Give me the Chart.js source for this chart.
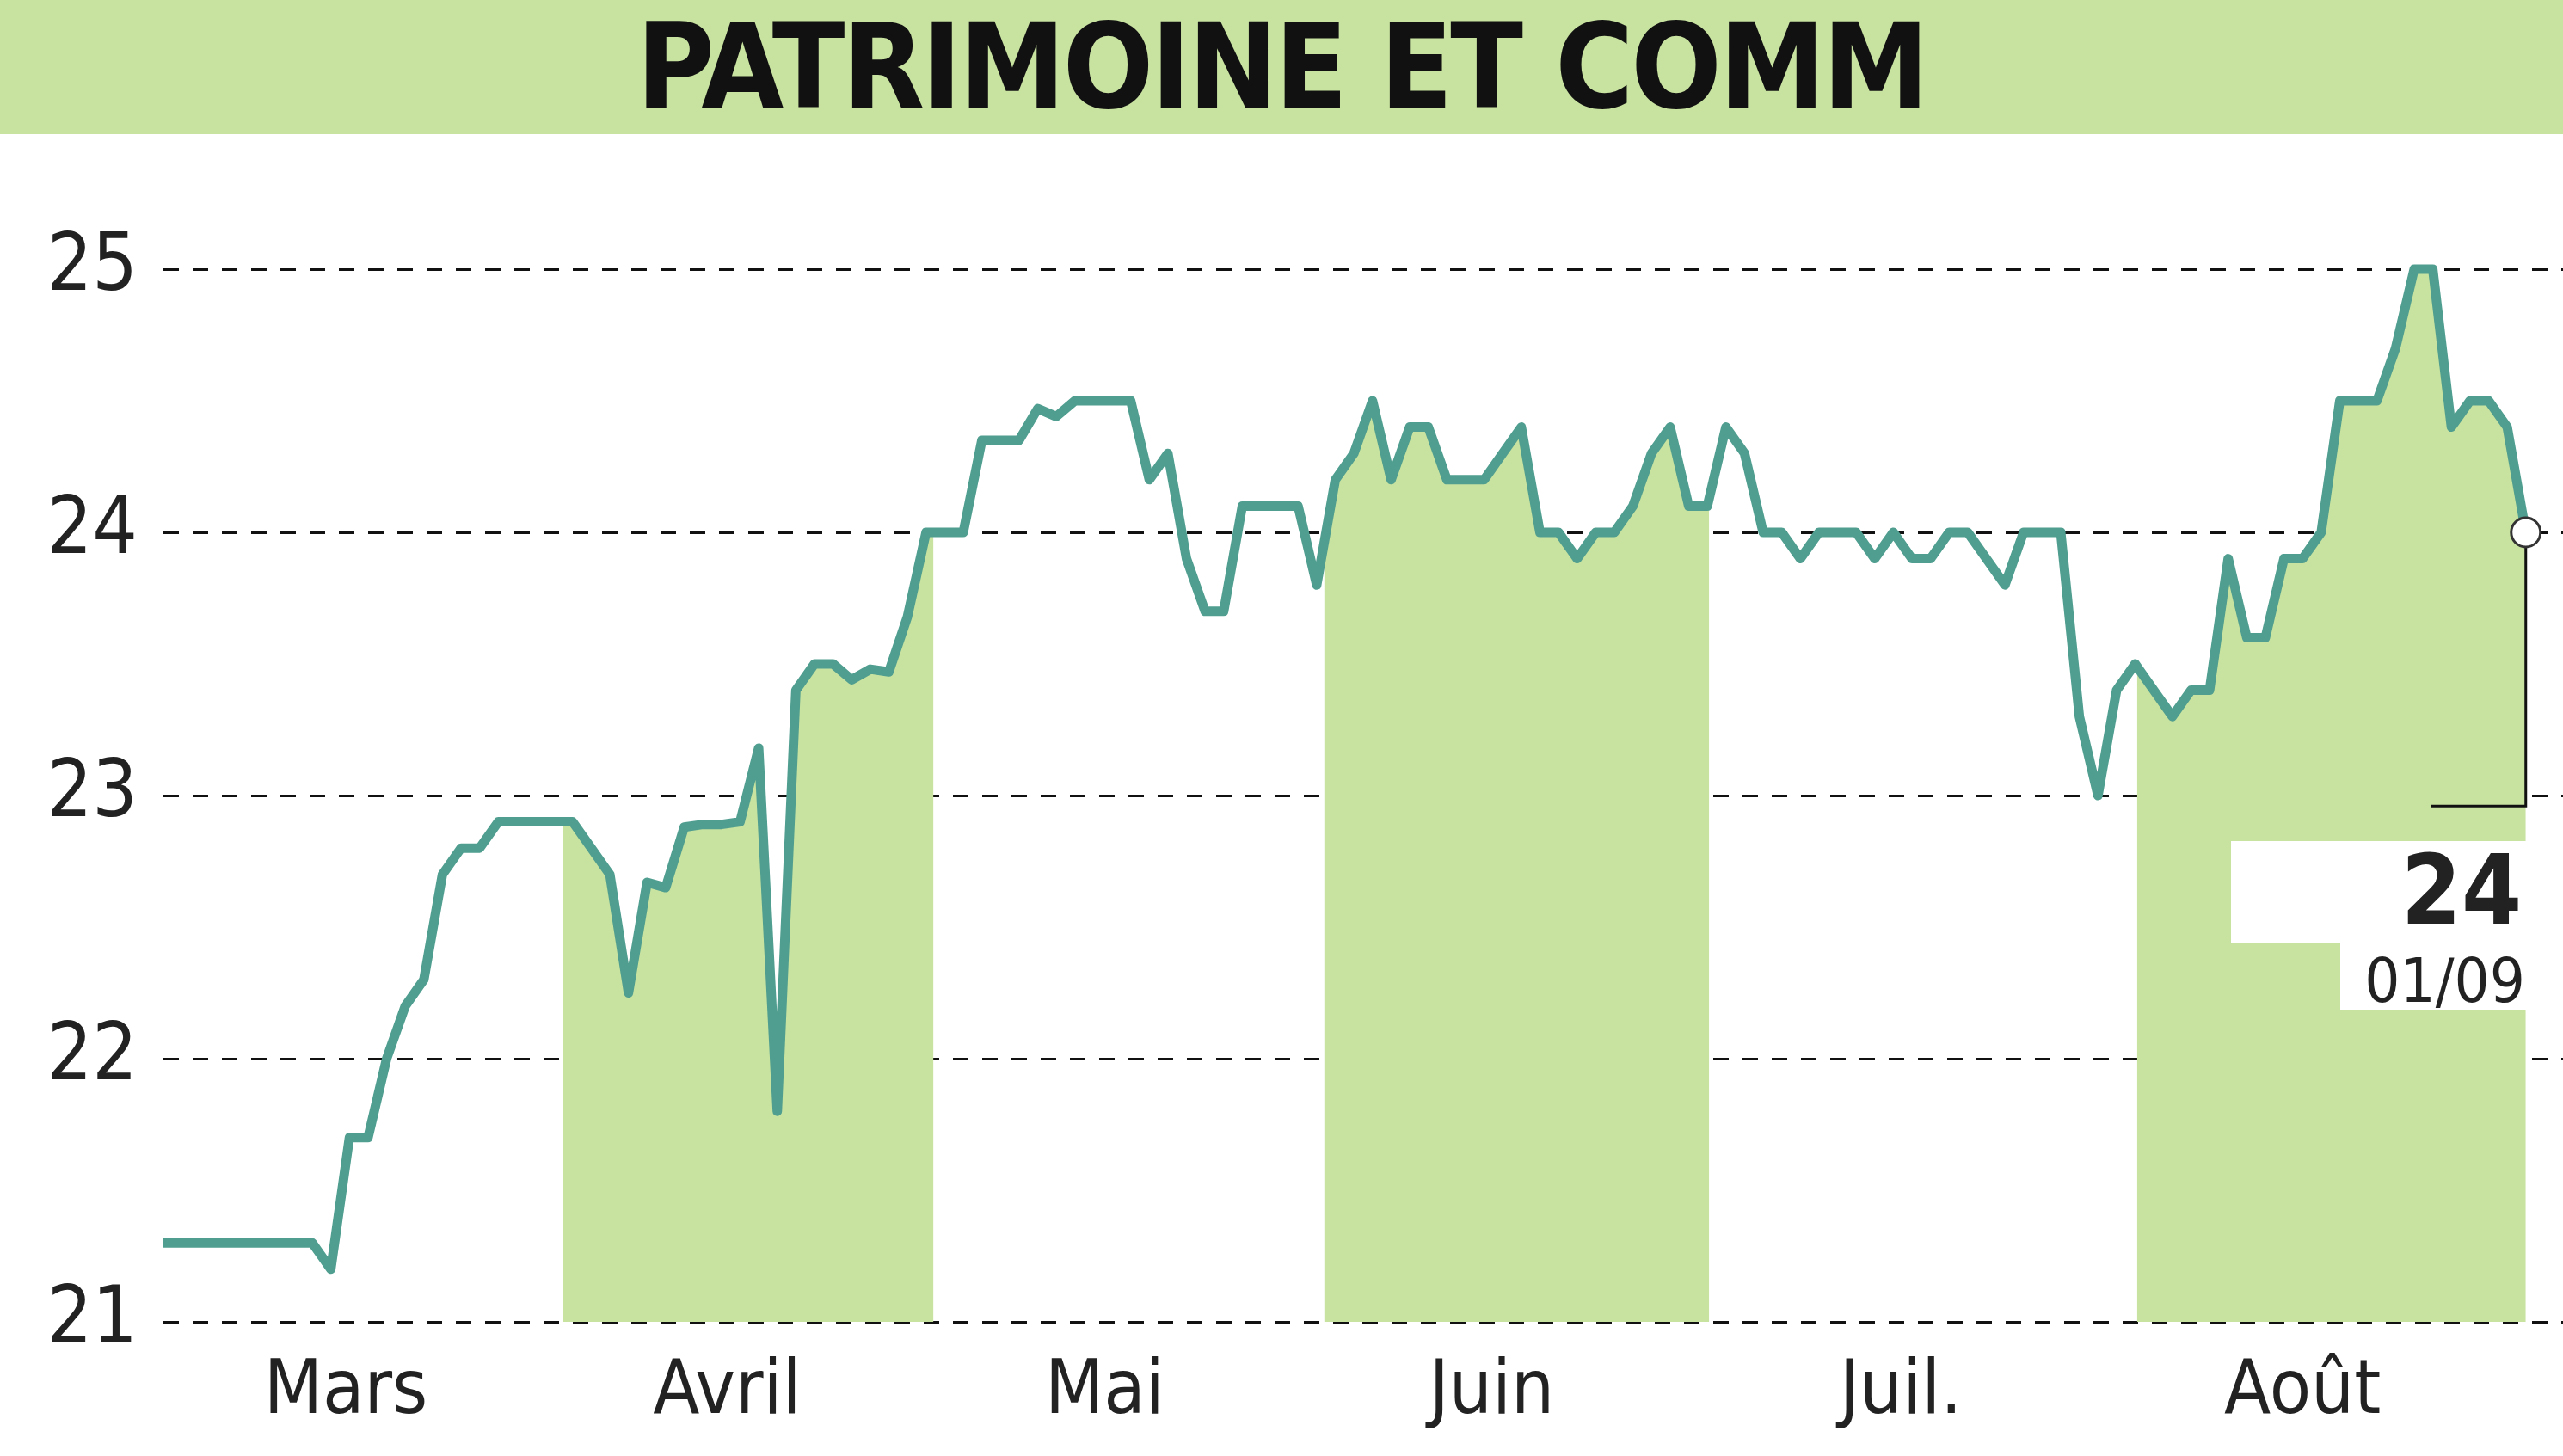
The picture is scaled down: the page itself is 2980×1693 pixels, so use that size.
<!DOCTYPE html>
<html><head><meta charset="utf-8">
<script src="https://cdn.jsdelivr.net/npm/chart.js@4/dist/chart.umd.min.js"></script>
<style>
html,body{margin:0;padding:0;background:#fff;width:2980px;height:1693px;overflow:hidden;font-family:"DejaVu Sans Condensed","DejaVu Sans",sans-serif;font-stretch:condensed}
#title{position:absolute;left:0;top:0;width:2980px;height:156px;background:#c8e2a0;text-align:center;font-weight:bold;font-size:138px;line-height:156px;color:#111;letter-spacing:-3px}
#c{position:absolute;left:0;top:0}
.lbl{position:absolute;text-align:right;color:#222}
</style></head><body>
<canvas id="c" width="2980" height="1693"></canvas>
<div id="title">PATRIMOINE ET COMM</div>
<div class="lbl" style="right:48px;top:975px;font-size:112px;font-weight:bold;line-height:120px">24</div>
<div class="lbl" style="right:44px;top:1100px;font-size:72px;line-height:80px">01/09</div>
<script>
const prices = [21.3,21.3,21.3,21.3,21.3,21.3,21.3,21.3,21.3,21.2,21.7,21.7,22.0,22.2,22.3,22.7,22.8,22.8,22.9,22.9,22.9,22.9,22.9,22.8,22.7,22.25,22.67,22.65,22.88,22.89,22.89,22.9,23.18,21.8,23.4,23.5,23.5,23.44,23.48,23.47,23.68,24.0,24.0,24.0,24.35,24.35,24.35,24.47,24.44,24.5,24.5,24.5,24.5,24.2,24.3,23.9,23.7,23.7,24.1,24.1,24.1,24.1,23.8,24.2,24.3,24.5,24.2,24.4,24.4,24.2,24.2,24.2,24.3,24.4,24.0,24.0,23.9,24.0,24.0,24.1,24.3,24.4,24.1,24.1,24.4,24.3,24.0,24.0,23.9,24.0,24.0,24.0,23.9,24.0,23.9,23.9,24.0,24.0,23.9,23.8,24.0,24.0,24.0,23.3,23.0,23.4,23.5,23.4,23.3,23.4,23.4,23.9,23.6,23.6,23.9,23.9,24.0,24.5,24.5,24.5,24.7,25.0,25.0,24.4,24.5,24.5,24.4,24.0];
const months = ["Mars","Avril","Mai","Juin","Juil.","Août"];
const monthPos = [9.8,30.3,50.6,71.4,93.4,115];
const shaded = [[21.5,41.4],[62.4,83.1],[106.1,127]];
const yTicks = [21,22,23,24,25];

const FONT='"DejaVu Sans Condensed","DejaVu Sans"';
const linePts = prices.map((v,i)=>({x:i,y:v}));
function interp(x){const i=Math.floor(x),f=x-i;if(i>=prices.length-1)return prices[prices.length-1];return prices[i]+(prices[i+1]-prices[i])*f;}
const fillSets = shaded.map(([a,b])=>{
  const pts=[{x:a,y:interp(a)}];
  for(let i=Math.ceil(a);i<=Math.floor(b);i++)pts.push({x:i,y:prices[i]});
  if(b>Math.floor(b))pts.push({x:b,y:interp(b)});
  return {data:pts,fill:'origin',backgroundColor:'#c8e2a0',borderWidth:0,pointRadius:0,tension:0,order:1};
});
const endPlugin={id:'end',afterDatasetsDraw(ch){
  const {ctx,scales:{x,y}}=ch;const n=prices.length-1;
  const px=x.getPixelForValue(n),py=y.getPixelForValue(prices[n]);
  ctx.save();
  ctx.fillStyle='#fff';
  ctx.fillRect(2594,978,346,118);ctx.fillRect(2721,1096,219,78);
  ctx.strokeStyle='#111';ctx.lineWidth=3;ctx.beginPath();
  const yb=y.getPixelForValue(22.96);
  ctx.moveTo(px,py);ctx.lineTo(px,yb);ctx.lineTo(2827,yb);ctx.stroke();
  ctx.beginPath();ctx.arc(px,py,17,0,Math.PI*2);ctx.fillStyle='#fff';ctx.fill();ctx.strokeStyle='#333';ctx.lineWidth=3;ctx.stroke();
  ctx.restore();
}};
new Chart(document.getElementById('c'),{
  type:'line',
  data:{datasets:[...fillSets,{data:linePts,borderColor:'#4f9e8f',borderWidth:11,pointRadius:0,fill:false,tension:0,borderJoinStyle:'round',order:0}]},
  options:{responsive:false,animation:false,devicePixelRatio:1,
    layout:{padding:{top:160,right:0,left:0,bottom:0}},
    plugins:{legend:{display:false},tooltip:{enabled:false}},
    scales:{
      x:{type:'linear',min:0,max:129,grid:{display:false},border:{display:false},
        afterBuildTicks(s){s.ticks=monthPos.map(v=>({value:v}));},
        afterFit(s){s.height=156;},
        ticks:{autoSkip:false,maxRotation:0,padding:22,color:'#222',font:{family:FONT,size:88},
          callback:(v,i)=>months[i]}},
      y:{min:21,max:25.5,border:{display:false,dash:[18,16]},
        afterBuildTicks(s){s.ticks=yTicks.map(v=>({value:v}));},
        afterFit(s){s.width=190;},
        grid:{color:'#111',lineWidth:3,drawTicks:false},
        ticks:{padding:30,color:'#222',font:{family:FONT,size:92},callback:v=>String(v)}}
    }},
  plugins:[endPlugin]
});
</script></body></html>
